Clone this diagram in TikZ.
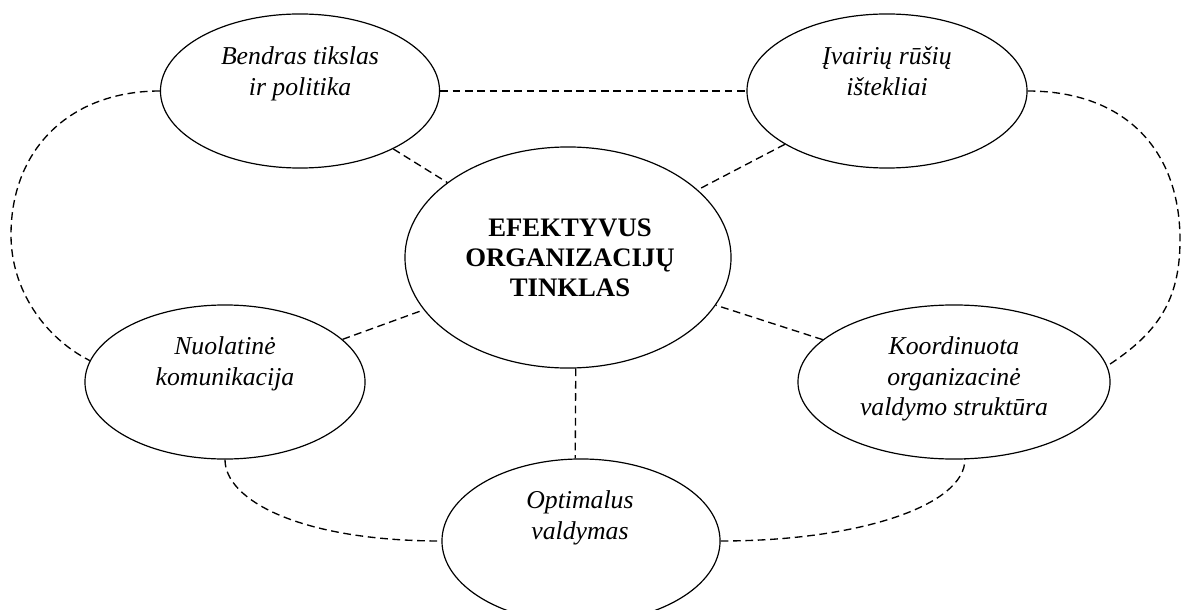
\documentclass[tikz,border=0pt]{standalone}
\usepackage{fontspec}
\setmainfont{Liberation Serif}
\usetikzlibrary{shapes.geometric}
\tikzset{
  oval/.style={draw, ellipse, line width=0.85pt, inner sep=0pt, minimum width=7cm, minimum height=3.85cm},
  lbl/.style={font=\fontsize{18.3pt}{21.7pt}\selectfont\itshape, align=center, anchor=north, inner sep=0pt, execute at begin node=\strut},
  link/.style={line width=0.95pt, dash pattern=on 5.5pt off 3.3pt}
}
\begin{document}
\begin{tikzpicture}[x=0.025cm, y=-0.025cm]
        \def\t{21.4}
        \useasboundingbox (0,0) rectangle (1183,610);
        %Draw ellipses
        \node[oval, minimum width=6.975cm] (e1) at (300,91) {};
        \node[oval] (e2) at (887,91) {};
        \node[oval, minimum width=8.15cm, minimum height=5.525cm] (e0) at (568,257.5) {};
        \node[oval] (e3) at (225,382) {};
        \node[oval, minimum width=7.8cm] (e4) at (954,382) {};
        \node[oval, minimum width=6.95cm, minimum height=4.1cm] (e5) at (581,541) {};
        %Draw labels
        \node[lbl] (t1) at (300,68-\t) {Bendras tikslas\\ir politika};
        \node[lbl] (t2) at (887,68-\t) {Įvairių rūšių\\ištekliai};
        \node[lbl, font=\fontsize{19pt}{21.4pt}\selectfont\bfseries] (t0) at (570,240-\t) {EFEKTYVUS\\ORGANIZACIJŲ\\TINKLAS};
        \node[lbl] (t3) at (225,358-\t) {Nuolatinė\\komunikacija};
        \node[lbl] (t4) at (954,358-\t) {Koordinuota\\organizacinė\\valdymo struktūra};
        \node[lbl] (t5) at (580,512-\t) {Optimalus\\valdymas};
        %Draw lines
        \draw[link] (e1) -- (e0);
        \draw[link] (e2) -- (e0);
        \draw[link] (e3) -- (e0);
        \draw[link] (e4) -- (e0);
        \draw[link] (e0.-86) -- (e5.94);
        \draw[link] (e1.east) -- (e2.west);
        \draw[link] (e1.west) .. controls (71,91) and (11,148) .. (11,235) .. controls (11,290) and (45,338) .. (e3.171);
        \draw[link] (e2.east) .. controls (1122,91) and (1180,147) .. (1180,240) .. controls (1180,300) and (1158,333) .. (e4.6);
        \draw[link] (e3.south) .. controls (225,500) and (300,541) .. (e5.west);
        \draw[link] (e5.east) .. controls (860,541) and (965,505) .. (e4.-82);
\end{tikzpicture}
\end{document}
